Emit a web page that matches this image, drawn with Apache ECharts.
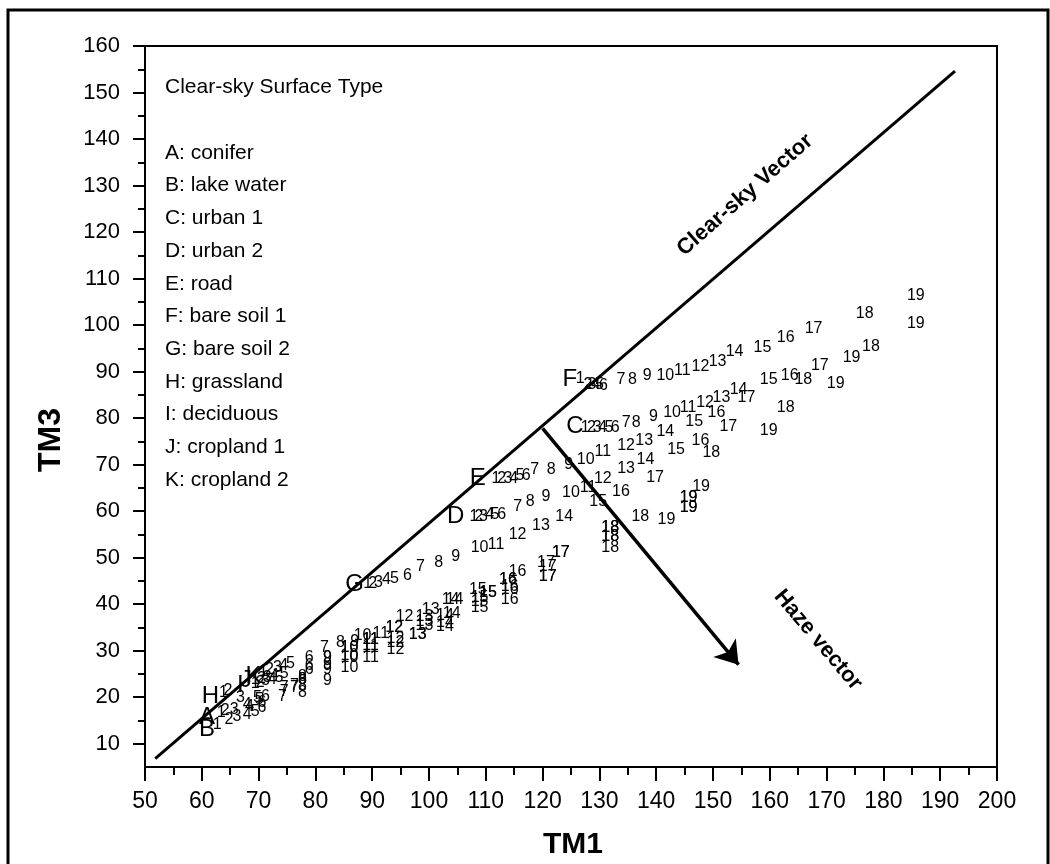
<!DOCTYPE html>
<html>
<head>
<meta charset="utf-8">
<script src="https://cdn.jsdelivr.net/npm/echarts@6/dist/echarts.min.js"></script>
<style>
  html, body { margin: 0; padding: 0; background: #fff; }
  #chart { width: 1050px; height: 864px; }
</style>
</head>
<body>
<div id="chart"></div>
<script>
// axis ticks
var xTicks = [50, 60, 70, 80, 90, 100, 110, 120, 130, 140, 150, 160, 170, 180, 190, 200];
var yTicks = [10, 20, 30, 40, 50, 60, 70, 80, 90, 100, 110, 120, 130, 140, 150, 160];
var yMinor = [15, 25, 35, 45, 55, 65, 75, 85, 95, 105, 115, 125, 135, 145, 155];

var surfaceTypes = ['A: conifer', 'B: lake water', 'C: urban 1', 'D: urban 2', 'E: road',
  'F: bare soil 1', 'G: bare soil 2', 'H: grassland', 'I: deciduous', 'J: cropland 1', 'K: cropland 2'];

// clear-sky position of each surface type (TM1, TM3)
var letters = [
  ['A', 60.9, 15.6], ['B', 60.9, 13.0], ['C', 125.7, 78.2], ['D', 104.7, 58.9],
  ['E', 108.6, 67.0], ['F', 124.8, 88.3], ['G', 86.9, 44.2], ['H', 61.5, 20.1],
  ['I', 66.8, 22.5], ['J', 67.8, 23.6], ['K', 69.1, 24.4]
];

// hazy points 1..19 for every surface type, [TM1, TM3]
var rowA = [[63.4,16.7],[64.1,17.1],[65.7,17.3],[68.4,18.0],[70.1,19.5],[71.2,20.1],[74.5,21.2],[77.7,22.5],[82.1,25.9],[86.0,28.5],
  [89.7,30.7],[94.1,31.7],[99.2,36.3],[102.8,37.5],[108.9,40.5],[114.2,43.2],[120.9,48.0],[131.9,54.6],[145.7,60.8]];
var rowB = [[62.7,14.1],[64.8,15.2],[66.2,15.8],[68.0,16.3],[69.4,16.9],[70.6,17.8],[74.2,20.1],[77.7,21.0],[82.1,23.6],[86.0,26.4],
  [89.7,28.5],[94.1,30.2],[98.0,33.5],[102.8,35.2],[108.9,39.3],[114.2,41.0],[120.9,46.0],[131.9,52.2],[141.8,58.2]];
var rowC = [[127.5,78.0],[128.6,78.0],[129.6,78.0],[130.6,78.0],[131.7,78.0],[132.8,78.0],[134.7,79.1],[136.5,79.1],[139.5,80.4],[142.8,81.2],
  [145.6,82.3],[148.6,83.4],[151.5,84.5],[154.5,86.2],[159.8,88.3],[163.5,89.2],[168.8,91.4],[177.8,95.4],[185.7,100.3]];
var rowD = [[107.9,58.9],[108.8,58.9],[109.6,58.9],[110.7,59.3],[111.6,59.3],[112.8,59.3],[115.6,61.0],[117.8,62.1],[120.6,63.2],[125.0,64.0],
  [128.0,65.1],[130.6,67.0],[134.7,69.2],[138.1,71.1],[143.5,73.3],[147.8,75.2],[152.7,78.2],[162.8,82.3],[174.4,93.1]];
var rowE = [[111.8,67.0],[112.8,67.0],[113.9,67.0],[114.9,67.0],[116.0,67.7],[117.1,67.7],[118.6,69.0],[121.5,69.0],[124.6,70.0],[127.6,71.1],
  [130.6,72.8],[134.7,74.1],[137.9,75.2],[141.6,77.2],[146.7,79.3],[150.6,81.2],[155.9,84.5],[165.9,88.3],[171.6,87.5]];
var rowF = [[126.6,88.6],[128.0,87.3],[128.7,87.3],[129.4,87.3],[130.0,87.3],[130.7,87.0],[133.8,88.3],[135.8,88.3],[138.4,89.2],[141.6,89.2],
  [144.6,90.3],[147.8,91.1],[150.8,92.2],[153.8,94.2],[158.7,95.2],[162.8,97.4],[167.7,99.3],[176.7,102.5],[185.7,106.4]];
var rowG = [[89.2,44.4],[90.1,44.4],[91.1,44.7],[92.5,45.3],[93.9,45.5],[96.2,46.2],[98.5,48.1],[101.7,49.0],[104.7,50.3],[108.9,52.2],
  [111.8,52.8],[115.6,55.0],[119.7,56.9],[123.8,58.9],[129.8,62.1],[133.8,64.2],[139.8,67.3],[149.7,72.6],[159.8,77.4]];
var rowH = [[63.8,21.0],[64.6,21.4],[66.8,19.9],[68.0,18.4],[69.8,19.9],[70.6,18.8],[74.5,22.1],[77.7,23.8],[82.1,28.5],[86.0,30.7],
  [89.7,32.4],[93.9,35.0],[98.0,33.5],[102.8,36.0],[110.4,42.5],[113.9,45.3],[120.9,46.0],[131.9,54.6],[145.7,60.8]];
var rowI = [[69.4,23.0],[70.3,23.2],[71.2,23.6],[72.4,23.8],[73.6,24.2],[78.9,26.0],[76.3,22.1],[77.7,23.8],[82.1,27.0],[86.0,28.9],
  [89.7,31.0],[94.1,32.5],[99.2,35.5],[104.0,38.0],[108.9,41.5],[114.2,43.8],[123.2,51.1],[131.9,56.5],[145.7,63.0]];
var rowJ = [[69.4,23.8],[70.5,24.0],[71.5,24.2],[72.8,24.6],[74.5,25.1],[78.9,26.8],[76.3,22.6],[77.7,24.5],[82.1,28.5],[86.0,30.7],
  [89.7,32.4],[93.9,35.0],[99.2,37.3],[103.8,41.0],[110.4,42.5],[113.9,45.3],[123.2,51.1],[131.9,56.5],[145.7,63.0]];
var rowK = [[70.8,25.5],[71.9,25.9],[73.3,26.4],[74.4,26.8],[75.6,27.2],[78.9,28.5],[81.6,30.7],[84.4,31.7],[86.9,32.0],[88.3,33.3],
  [91.5,33.7],[95.7,37.3],[100.3,38.9],[104.5,41.0],[108.6,43.2],[115.6,47.0],[120.6,49.0],[137.2,58.9],[147.9,65.3]];

var clearSkyVector = [[51.8, 6.8], [192.6, 154.6]];
var hazeVector = [[120.0, 77.8], [154.5, 27.0]];

var rows = { A: rowA, B: rowB, C: rowC, D: rowD, E: rowE, F: rowF, G: rowG, H: rowH, I: rowI, J: rowJ, K: rowK };
var font = 'Liberation Sans, Arial, sans-serif';

var series = [];
series.push({
  type: 'line', data: clearSkyVector, showSymbol: false, silent: true,
  lineStyle: { color: '#000', width: 3 }
});
series.push({
  type: 'lines', coordinateSystem: 'cartesian2d', silent: true,
  symbol: ['none', 'arrow'], symbolSize: [14, 22],
  lineStyle: { color: '#000', width: 3.5, opacity: 1 },
  data: [{ coords: hazeVector }]
});
Object.keys(rows).forEach(function (k) {
  series.push({
    type: 'scatter', name: k, silent: true, symbolSize: 1,
    itemStyle: { color: 'rgba(0,0,0,0)', opacity: 1 },
    data: rows[k].map(function (p, i) { return [p[0], p[1], i + 1]; }),
    label: {
      show: true, position: 'inside', color: '#000', opacity: 1, fontSize: 16, fontFamily: font,
      formatter: function (d) { return d.value[2]; }
    }
  });
});
series.push({
  type: 'scatter', silent: true, symbolSize: 1, itemStyle: { color: 'rgba(0,0,0,0)', opacity: 1 },
  data: letters.map(function (l) { return [l[1], l[2], l[0]]; }),
  label: {
    show: true, position: 'inside', color: '#000', opacity: 1, fontSize: 24, fontFamily: font,
    formatter: function (d) { return d.value[2]; }
  }
});

var graphics = [
  { type: 'rect', shape: { x: 8, y: 10, width: 1040, height: 860 }, style: { fill: 'none', stroke: '#000', lineWidth: 3 }, silent: true },
  { type: 'text', x: 165, y: 87, style: { text: 'Clear-sky Surface Type', font: '21px ' + font, fill: '#000', verticalAlign: 'middle' } },
  { type: 'text', x: 51, y: 440, rotation: Math.PI / 2, style: { text: 'TM3', font: 'bold 32px ' + font, fill: '#000', align: 'center', verticalAlign: 'middle' } },
  { type: 'text', x: 573, y: 845, style: { text: 'TM1', font: 'bold 30px ' + font, fill: '#000', align: 'center', verticalAlign: 'middle' } },
  { type: 'text', x: 745, y: 195, rotation: 0.72, style: { text: 'Clear-sky Vector', font: 'bold 22px ' + font, fill: '#000', align: 'center', verticalAlign: 'middle' } },
  { type: 'text', x: 818, y: 640, rotation: -0.87, style: { text: 'Haze vector', font: 'bold 22px ' + font, fill: '#000', align: 'center', verticalAlign: 'middle' } }
];
surfaceTypes.forEach(function (t, i) {
  graphics.push({ type: 'text', x: 165, y: 153 + i * 32.7, style: { text: t, font: '21px ' + font, fill: '#000', verticalAlign: 'middle' } });
});

var chart = echarts.init(document.getElementById('chart'));
chart.setOption({
  animation: false,
  backgroundColor: '#fff',
  grid: { left: 145, right: 53, top: 46, bottom: 97, show: true, borderColor: '#000', borderWidth: 2 },
  xAxis: {
    type: 'value', min: 50, max: 200, interval: 10,
    axisLine: { show: true, onZero: false, lineStyle: { color: '#000', width: 2 } },
    axisTick: { show: true, length: 14, lineStyle: { color: '#000', width: 2 } },
    minorTick: { show: true, splitNumber: 2, length: 8, lineStyle: { color: '#000', width: 2 } },
    axisLabel: { fontSize: 23, color: '#000', fontFamily: font, margin: 23, customValues: xTicks },
    splitLine: { show: false }
  },
  yAxis: [{
    type: 'value', min: 5, max: 160, interval: 5,
    axisLine: { show: true, onZero: false, lineStyle: { color: '#000', width: 2 } },
    axisTick: { show: true, length: 12, customValues: yTicks, lineStyle: { color: '#000', width: 2 } },
    axisLabel: { fontSize: 22, color: '#000', fontFamily: font, margin: 25, customValues: yTicks },
    splitLine: { show: false }
  }, {
    type: 'value', min: 5, max: 160, interval: 5, position: 'left',
    axisLine: { show: false },
    axisTick: { show: true, length: 7, customValues: yMinor, lineStyle: { color: '#000', width: 2 } },
    axisLabel: { show: false },
    splitLine: { show: false }
  }],
  graphic: graphics,
  series: series
});
</script>
</body>
</html>
